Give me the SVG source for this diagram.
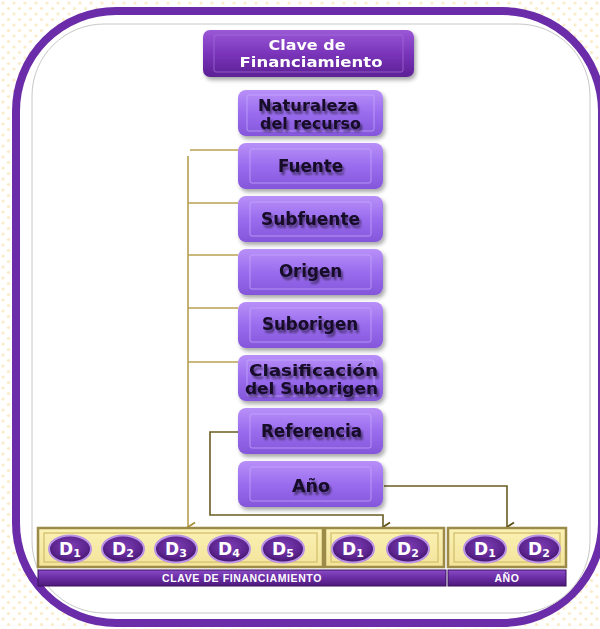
<svg xmlns="http://www.w3.org/2000/svg" width="600" height="629" viewBox="0 0 600 629">
  <defs>
    <pattern id="dots" width="11" height="11" patternUnits="userSpaceOnUse">
      <rect width="11" height="11" fill="#ffffff"/>
      <circle cx="3" cy="3" r="1.6" fill="#fbecc8"/>
      <circle cx="8.5" cy="8.5" r="1.6" fill="#fbecc8"/>
    </pattern>
    <linearGradient id="gNode" x1="0" y1="0" x2="0" y2="1">
      <stop offset="0" stop-color="#b890f8"/>
      <stop offset="0.5" stop-color="#9a6cee"/>
      <stop offset="1" stop-color="#8456da"/>
    </linearGradient>
    <linearGradient id="gTitle" x1="0" y1="0" x2="0" y2="1">
      <stop offset="0" stop-color="#9a58d6"/>
      <stop offset="0.5" stop-color="#7a34ba"/>
      <stop offset="1" stop-color="#5c2094"/>
    </linearGradient>
    <linearGradient id="gBand" x1="0" y1="0" x2="0" y2="1">
      <stop offset="0" stop-color="#8a4cc6"/>
      <stop offset="0.5" stop-color="#6a2ca4"/>
      <stop offset="1" stop-color="#4c1a7a"/>
    </linearGradient>
    <radialGradient id="gDisc" cx="0.5" cy="0.4" r="0.6">
      <stop offset="0" stop-color="#7c3eb6"/>
      <stop offset="0.7" stop-color="#5c248e"/>
      <stop offset="1" stop-color="#3e1264"/>
    </radialGradient>
    <linearGradient id="gYellow" x1="0" y1="0" x2="0" y2="1">
      <stop offset="0" stop-color="#fbf1b4"/>
      <stop offset="1" stop-color="#f3e49a"/>
    </linearGradient>
    <filter id="shadow" x="-10%" y="-10%" width="125%" height="135%">
      <feGaussianBlur in="SourceAlpha" stdDeviation="2"/>
      <feOffset dx="2" dy="3" result="b"/>
      <feComponentTransfer><feFuncA type="linear" slope="0.35"/></feComponentTransfer>
      <feMerge><feMergeNode/><feMergeNode in="SourceGraphic"/></feMerge>
    </filter>
    <filter id="txtShadow" x="-10%" y="-20%" width="130%" height="160%">
      <feGaussianBlur in="SourceAlpha" stdDeviation="1.3"/>
      <feOffset dx="2" dy="2.5"/>
      <feComponentTransfer><feFuncA type="linear" slope="0.5"/></feComponentTransfer>
      <feMerge><feMergeNode/><feMergeNode in="SourceGraphic"/></feMerge>
    </filter>
    <marker id="arrGold" markerWidth="12" markerHeight="12" refX="6" refY="10" orient="auto-start-reverse" markerUnits="userSpaceOnUse">
      <path d="M1.5,3 L6,10 L10.5,3" fill="none" stroke="#a8923a" stroke-width="1.8"/>
    </marker>
    <marker id="arrOlive" markerWidth="12" markerHeight="12" refX="6" refY="10" orient="auto-start-reverse" markerUnits="userSpaceOnUse">
      <path d="M1.5,3 L6,10 L10.5,3" fill="none" stroke="#5e5218" stroke-width="1.8"/>
    </marker>
    <style>
      .node rect.body { fill: url(#gNode); }
      .node rect.bevel { fill: none; stroke: #c9abff; stroke-width: 1; opacity: 0.7; }
      .node text { font-family: "DejaVu Sans", Verdana, sans-serif; font-weight: bold; font-size: 17px; fill: #140826; text-anchor: middle; }
      .node text.two { font-size: 15px; }
      .title text { fill: #ffffff; font-size: 14.5px; }
      .gold { fill: none; stroke: #b8a050; stroke-width: 1.6; }
      .olive { fill: none; stroke: #6a5c22; stroke-width: 1.6; }
      .ybox { fill: url(#gYellow); stroke: #9c8a48; stroke-width: 2.5; }
      .yinner { fill: none; stroke: #d8c676; stroke-width: 1.5; }
      .disc ellipse.d { fill: url(#gDisc); stroke: #b892e6; stroke-width: 2; }
      .disc text { font-family: "DejaVu Sans", Verdana, sans-serif; font-weight: bold; font-size: 17px; fill: #ffffff; text-anchor: middle; }
      .disc tspan.sub { font-size: 11px; }
      .band rect { fill: url(#gBand); stroke: #3c1060; stroke-width: 1; }
      .band text { font-family: "Liberation Sans", Arial, sans-serif; font-weight: bold; font-size: 10.5px; fill: #ffffff; text-anchor: middle; letter-spacing: 0.6px; }
    </style>
  </defs>

  <!-- background and frame -->
  <rect width="600" height="629" fill="url(#dots)"/>
  <rect x="16" y="11" width="586" height="612" rx="100" ry="100" fill="#ffffff" stroke="#6a2ca8" stroke-width="8"/>
  <rect x="32" y="24" width="558" height="589" rx="72" ry="72" fill="#ffffff" stroke="#c8c8c8" stroke-width="1"/>

  <!-- title -->
  <g id="title" class="node title" filter="url(#shadow)">
    <rect class="body" x="203" y="30" width="211" height="47" rx="7" style="fill:url(#gTitle)"/>
    <rect class="bevel" x="214" y="35" width="189" height="37" rx="2" style="stroke:#a670dc"/>
    <text x="307" y="50" textLength="77" lengthAdjust="spacingAndGlyphs">Clave de</text>
    <text x="311" y="67" textLength="143" lengthAdjust="spacingAndGlyphs">Financiamiento</text>
  </g>

  <!-- connectors -->
  <g id="connectors">
    <path class="gold" d="M190,150 H238"/>
    <path class="gold" d="M188,156 V527" marker-end="url(#arrGold)"/>
    <path class="gold" d="M188,203 H238"/>
    <path class="gold" d="M188,255 H238"/>
    <path class="gold" d="M188,308 H238"/>
    <path class="gold" d="M188,362 H238"/>
    <path class="olive" d="M238,432 H210 V515 H383 V527" marker-end="url(#arrOlive)"/>
    <path class="olive" d="M384,486 H507 V527" marker-end="url(#arrOlive)"/>
  </g>

  <!-- component nodes -->
  <g id="naturaleza" class="node" filter="url(#shadow)">
    <rect class="body" x="238" y="90" width="145" height="46" rx="8"/>
    <rect class="bevel" x="247" y="95" width="127" height="36" rx="2"/>
    <text class="two" filter="url(#txtShadow)" x="308" y="111" textLength="100" lengthAdjust="spacingAndGlyphs">Naturaleza</text>
    <text class="two" filter="url(#txtShadow)" x="310.5" y="129" textLength="101" lengthAdjust="spacingAndGlyphs">del recurso</text>
  </g>
  <g id="fuente" class="node" filter="url(#shadow)">
    <rect class="body" x="238" y="143" width="145" height="46" rx="8"/>
    <rect class="bevel" x="250" y="149" width="121" height="34" rx="2"/>
    <text filter="url(#txtShadow)" x="310.5" y="172" textLength="65" lengthAdjust="spacingAndGlyphs">Fuente</text>
  </g>
  <g id="subfuente" class="node" filter="url(#shadow)">
    <rect class="body" x="238" y="196" width="145" height="46" rx="8"/>
    <rect class="bevel" x="250" y="202" width="121" height="34" rx="2"/>
    <text filter="url(#txtShadow)" x="310.5" y="225" textLength="99" lengthAdjust="spacingAndGlyphs">Subfuente</text>
  </g>
  <g id="origen" class="node" filter="url(#shadow)">
    <rect class="body" x="238" y="249" width="145" height="46" rx="8"/>
    <rect class="bevel" x="250" y="255" width="121" height="34" rx="2"/>
    <text filter="url(#txtShadow)" x="310.5" y="277" textLength="63" lengthAdjust="spacingAndGlyphs">Origen</text>
  </g>
  <g id="suborigen" class="node" filter="url(#shadow)">
    <rect class="body" x="238" y="302" width="145" height="46" rx="8"/>
    <rect class="bevel" x="250" y="308" width="121" height="34" rx="2"/>
    <text filter="url(#txtShadow)" x="310" y="330" textLength="96" lengthAdjust="spacingAndGlyphs">Suborigen</text>
  </g>
  <g id="clasificacion" class="node" filter="url(#shadow)">
    <rect class="body" x="238" y="355" width="145" height="46" rx="8"/>
    <rect class="bevel" x="247" y="360" width="127" height="36" rx="2"/>
    <text class="two" filter="url(#txtShadow)" x="313.5" y="376" textLength="129" lengthAdjust="spacingAndGlyphs">Clasificación</text>
    <text class="two" filter="url(#txtShadow)" x="311.5" y="394" textLength="133" lengthAdjust="spacingAndGlyphs">del Suborigen</text>
  </g>
  <g id="referencia" class="node" filter="url(#shadow)">
    <rect class="body" x="238" y="408" width="145" height="46" rx="8"/>
    <rect class="bevel" x="250" y="414" width="121" height="34" rx="2"/>
    <text filter="url(#txtShadow)" x="311.5" y="437" textLength="101" lengthAdjust="spacingAndGlyphs">Referencia</text>
  </g>
  <g id="anio" class="node" filter="url(#shadow)">
    <rect class="body" x="238" y="461" width="145" height="46" rx="8"/>
    <rect class="bevel" x="250" y="467" width="121" height="34" rx="2"/>
    <text filter="url(#txtShadow)" x="311" y="492" textLength="38" lengthAdjust="spacingAndGlyphs">Año</text>
  </g>

  <!-- digit boxes -->
  <g id="digitos-fuente">
    <rect class="ybox" x="38" y="528" width="285" height="39"/>
    <rect class="yinner" x="44" y="533" width="273" height="29"/>
    <g class="disc">
      <ellipse class="d" cx="70" cy="549" rx="21" ry="13.5"/><text x="70" y="555">D<tspan class="sub" dy="2">1</tspan></text>
      <ellipse class="d" cx="123" cy="549" rx="21" ry="13.5"/><text x="123" y="555">D<tspan class="sub" dy="2">2</tspan></text>
      <ellipse class="d" cx="176" cy="549" rx="21" ry="13.5"/><text x="176" y="555">D<tspan class="sub" dy="2">3</tspan></text>
      <ellipse class="d" cx="229" cy="549" rx="21" ry="13.5"/><text x="229" y="555">D<tspan class="sub" dy="2">4</tspan></text>
      <ellipse class="d" cx="283" cy="549" rx="21" ry="13.5"/><text x="283" y="555">D<tspan class="sub" dy="2">5</tspan></text>
    </g>
  </g>
  <g id="digitos-referencia">
    <rect class="ybox" x="325" y="528" width="119" height="39"/>
    <rect class="yinner" x="331" y="533" width="107" height="29"/>
    <g class="disc">
      <ellipse class="d" cx="353" cy="549" rx="21" ry="13.5"/><text x="353" y="555">D<tspan class="sub" dy="2">1</tspan></text>
      <ellipse class="d" cx="408" cy="549" rx="21" ry="13.5"/><text x="408" y="555">D<tspan class="sub" dy="2">2</tspan></text>
    </g>
  </g>
  <g id="digitos-anio">
    <rect class="ybox" x="448" y="528" width="118" height="39"/>
    <rect class="yinner" x="454" y="533" width="106" height="29"/>
    <g class="disc">
      <ellipse class="d" cx="485" cy="549" rx="21" ry="13.5"/><text x="485" y="555">D<tspan class="sub" dy="2">1</tspan></text>
      <ellipse class="d" cx="539" cy="549" rx="21" ry="13.5"/><text x="539" y="555">D<tspan class="sub" dy="2">2</tspan></text>
    </g>
  </g>

  <!-- labels under the digits -->
  <g id="banda-clave" class="band">
    <rect x="38" y="570" width="408" height="16"/>
    <text x="242" y="582">CLAVE DE FINANCIAMIENTO</text>
  </g>
  <g id="banda-anio" class="band">
    <rect x="448" y="570" width="118" height="16"/>
    <text x="507" y="582">AÑO</text>
  </g>
</svg>
